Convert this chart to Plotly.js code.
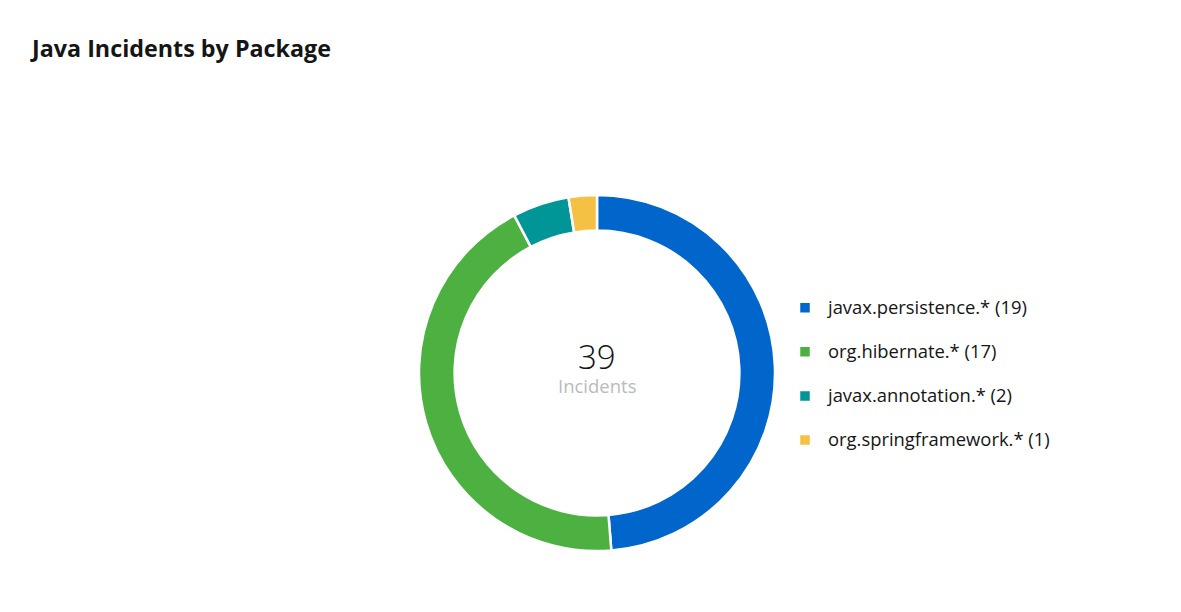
<!DOCTYPE html>
<html>
<head>
<meta charset="utf-8">
<script src="https://cdn.plot.ly/plotly-3.0.1.min.js"></script>
<style>html,body{margin:0;padding:0;background:#fff;}#chart{width:1181px;height:612px;}</style>
</head>
<body>
<div id="chart"></div>
<script>
const packages = ["javax.persistence.*", "org.hibernate.*", "javax.annotation.*", "org.springframework.*"];
const incidents = [19, 17, 2, 1];
const sliceColors = ["#0066CC", "#4CB140", "#009596", "#F4C145"];
const chartTitle = "Java Incidents by Package";
const centerLabel = "Incidents";

const total = incidents.reduce((a, b) => a + b, 0);
// legend label: visible text at 18.4px, plus a blank second line for the row spacing
const labels = packages.map((p, i) =>
  '<span style="font-size:18.4px">' + p + " (" + incidents[i] + ")</span><br> ");

const W = 1181, H = 612;
const trace = {
  type: "pie",
  labels: labels,
  values: incidents,
  hole: 0.8,
  sort: false,
  direction: "clockwise",
  rotation: 0,
  textinfo: "none",
  hoverinfo: "value",
  marker: { colors: sliceColors, line: { color: "#ffffff", width: 2.5 } },
  domain: { x: [419 / W, 775 / W], y: [1 - 551 / H, 1 - 195 / H] }
};

const layout = {
  width: W, height: H,
  margin: { l: 0, r: 0, t: 0, b: 0 },
  paper_bgcolor: "#ffffff",
  showlegend: true,
  title: {
    text: "<b>" + chartTitle + "</b>",
    x: 32 / W, xanchor: "left", xref: "paper",
    y: 1 - 49 / H, yanchor: "middle", yref: "paper",
    font: { family: "Open Sans, sans-serif", size: 23.3, color: "#151515" }
  },
  legend: {
    x: 782 / W, xanchor: "left",
    y: 1 - 384.5 / H, yanchor: "middle",
    font: { family: "Open Sans, sans-serif", size: 15.8, color: "#151515" },
    bgcolor: "rgba(0,0,0,0)",
    itemwidth: 36,
    valign: "top"
  },
  annotations: [
    { text: String(total), x: 597 / W, y: 1 - 356 / H, xref: "paper", yref: "paper",
      showarrow: false, xanchor: "center", yanchor: "middle",
      font: { family: "Open Sans, sans-serif", size: 33, color: "#151515", weight: 300 } },
    { text: centerLabel, x: 597 / W, y: 1 - 385 / H, xref: "paper", yref: "paper",
      showarrow: false, xanchor: "center", yanchor: "middle",
      font: { family: "Open Sans, sans-serif", size: 18.5, color: "#B8BBBE" } }
  ]
};

Plotly.newPlot("chart", [trace], layout, { displayModeBar: false, staticPlot: true });
</script>
</body>
</html>
